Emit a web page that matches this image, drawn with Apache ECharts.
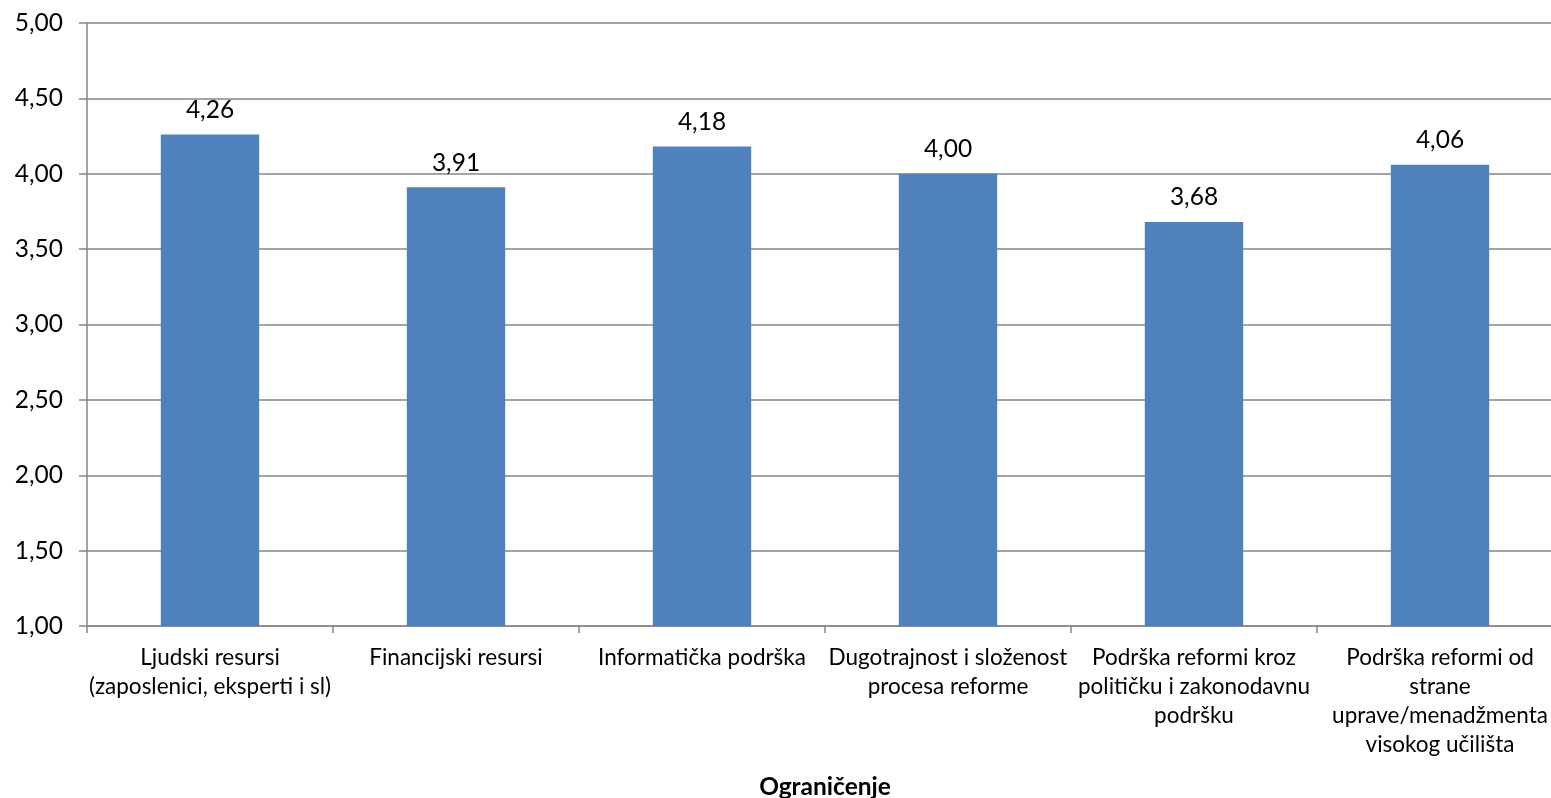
<!DOCTYPE html>
<html>
<head>
<meta charset="utf-8">
<style>
html,body{margin:0;padding:0;background:#fff;}
#chart{width:1551px;height:798px;}
</style>
<script src="https://cdn.jsdelivr.net/npm/echarts@6/dist/echarts.min.js"></script>
</head>
<body>
<div id="chart"></div>
<script>
var categories = [
  'Ljudski resursi\n(zaposlenici, eksperti i sl)',
  'Financijski resursi',
  'Informatička podrška',
  'Dugotrajnost i složenost\nprocesa reforme',
  'Podrška reformi kroz\npolitičku i zakonodavnu\npodršku',
  'Podrška reformi od\nstrane\nuprave/menadžmenta\nvisokog učilišta'
];
var values = [4.26, 3.91, 4.18, 4.00, 3.68, 4.06];
var axisTitle = 'Ograničenje';
var yMin = 1, yMax = 5, yStep = 0.5;

function fmt(v){ return Number(v).toFixed(2).replace('.', ','); }

var chart = echarts.init(document.getElementById('chart'));
chart.setOption({
  animation: false,
  textStyle: {fontFamily: 'Lato', color: '#000'},
  grid: {left: 87, top: 23, width: 1476, bottom: 172, containLabel: false, outerBoundsMode: 'none'},
  xAxis: {
    type: 'category',
    data: categories,
    name: axisTitle,
    nameLocation: 'middle',
    nameGap: 149,
    nameTextStyle: {fontFamily: 'Lato', fontWeight: 'bold', fontSize: 24.5, color: '#000'},
    axisLine: {lineStyle: {color: '#868686', width: 1.5}},
    axisTick: {show: true, length: 7, lineStyle: {color: '#868686', width: 1.5}, alignWithLabel: false},
    axisLabel: {interval: 0, margin: 17, fontSize: 22.5, lineHeight: 29, color: '#000', fontFamily: 'Lato'}
  },
  yAxis: {
    type: 'value',
    min: yMin, max: yMax, interval: yStep,
    axisLine: {show: true, lineStyle: {color: '#868686', width: 1.5}},
    axisTick: {show: true, length: 8, lineStyle: {color: '#868686', width: 1.5}},
    splitLine: {lineStyle: {color: '#868686', width: 1.5}},
    axisLabel: {formatter: fmt, margin: 24, fontSize: 24.5, color: '#000', fontFamily: 'Lato'}
  },
  series: [{
    type: 'bar',
    data: values,
    barWidth: '40%',
    itemStyle: {color: '#4F81BD'},
    label: {show: true, position: 'top', distance: 12, formatter: function(p){return fmt(p.value);}, fontSize: 24.5, color: '#000', fontFamily: 'Lato'}
  }]
});
</script>
</body>
</html>
